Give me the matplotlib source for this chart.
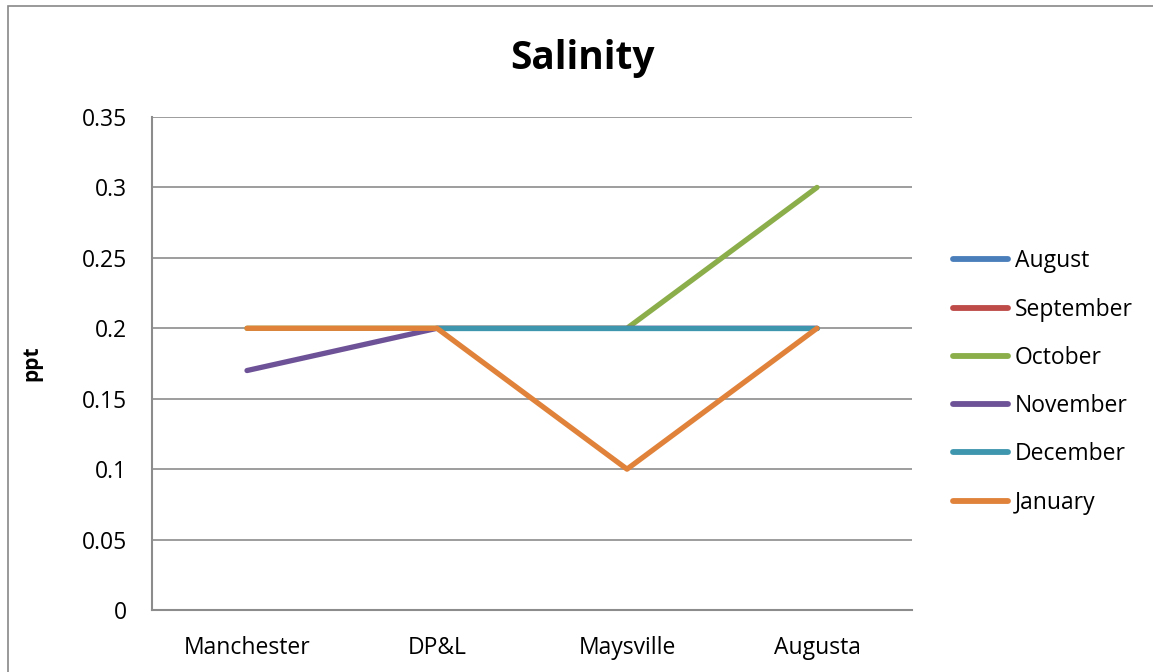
import numpy as np
import matplotlib
matplotlib.use("Agg")
from matplotlib import pyplot as plt
from matplotlib.patches import Rectangle

plt.rcParams['font.family'] = ['Open Sans', 'DejaVu Sans']

# sites along the river
sites = ['Manchester', 'DP&L', 'Maysville', 'Augusta']

# salinity readings (ppt) per month, nan = not sampled
august = [np.nan, np.nan, np.nan, np.nan]
september = [np.nan, np.nan, np.nan, np.nan]
october = [0.2, 0.2, 0.2, 0.3]
november = [0.17, 0.2, 0.2, 0.2]
december = [np.nan, 0.2, 0.2, 0.2]
january = [0.2, 0.2, 0.1, 0.2]

months = ['August', 'September', 'October', 'November', 'December', 'January']
series = [august, september, october, november, december, january]
colors = ['#4A7EBB', '#BE4B48', '#8BAE4A', '#6E5297', '#3E96AE', '#E0823A']

fig = plt.figure(figsize=(11.53, 6.72), dpi=100)
W, H = 1153, 672
# plot area in pixels: left 152, right 912, top 117, bottom 610
ax = fig.add_axes([152 / W, 1 - 610 / H, (912 - 152) / W, (610 - 117) / H])

# outer chart border
fig.patches.append(Rectangle((8 / W, -0.01), 1.2, 1 - 6 / H + 0.01, transform=fig.transFigure,
                             fill=False, edgecolor='#888888', linewidth=1.2))

x = np.arange(len(sites))
for name, vals, c in zip(months, series, colors):
    ax.plot(x, vals, color=c, linewidth=3.8, solid_capstyle='round',
            solid_joinstyle='round', label=name)

ax.set_xlim(-0.5, 3.5)
ax.set_ylim(0, 0.35)
ax.set_yticks(np.arange(0, 0.351, 0.05))
ax.set_yticklabels(['0', '0.05', '0.1', '0.15', '0.2', '0.25', '0.3', '0.35'])
ax.set_xticks(x)
ax.set_xticklabels(sites)
ax.tick_params(length=0, labelsize=16.5, colors='black')
ax.tick_params(axis='y', pad=18)
ax.tick_params(axis='x', pad=18.5)

ax.grid(axis='y', color='#8c8c8c', linewidth=1.2)
ax.set_axisbelow(True)
for s in ['top', 'right']:
    ax.spines[s].set_visible(False)
for s in ['left', 'bottom']:
    ax.spines[s].set_color('#8c8c8c')
    ax.spines[s].set_linewidth(1.5)

ax.set_ylabel('ppt', fontsize=15, fontweight='bold', labelpad=28)
fig.text(582 / W, 1 - 58 / H, 'Salinity', fontsize=28, fontweight='bold',
         ha='center', va='center')

leg = ax.legend(loc='center left', bbox_to_anchor=(1.042, 0.4625), frameon=False,
                fontsize=16.5, handlelength=2.4, handletextpad=0.3, labelspacing=1.06,
                borderaxespad=0)
for line in leg.get_lines():
    line.set_linewidth(4.2)

fig.savefig('out.png', dpi=100)
